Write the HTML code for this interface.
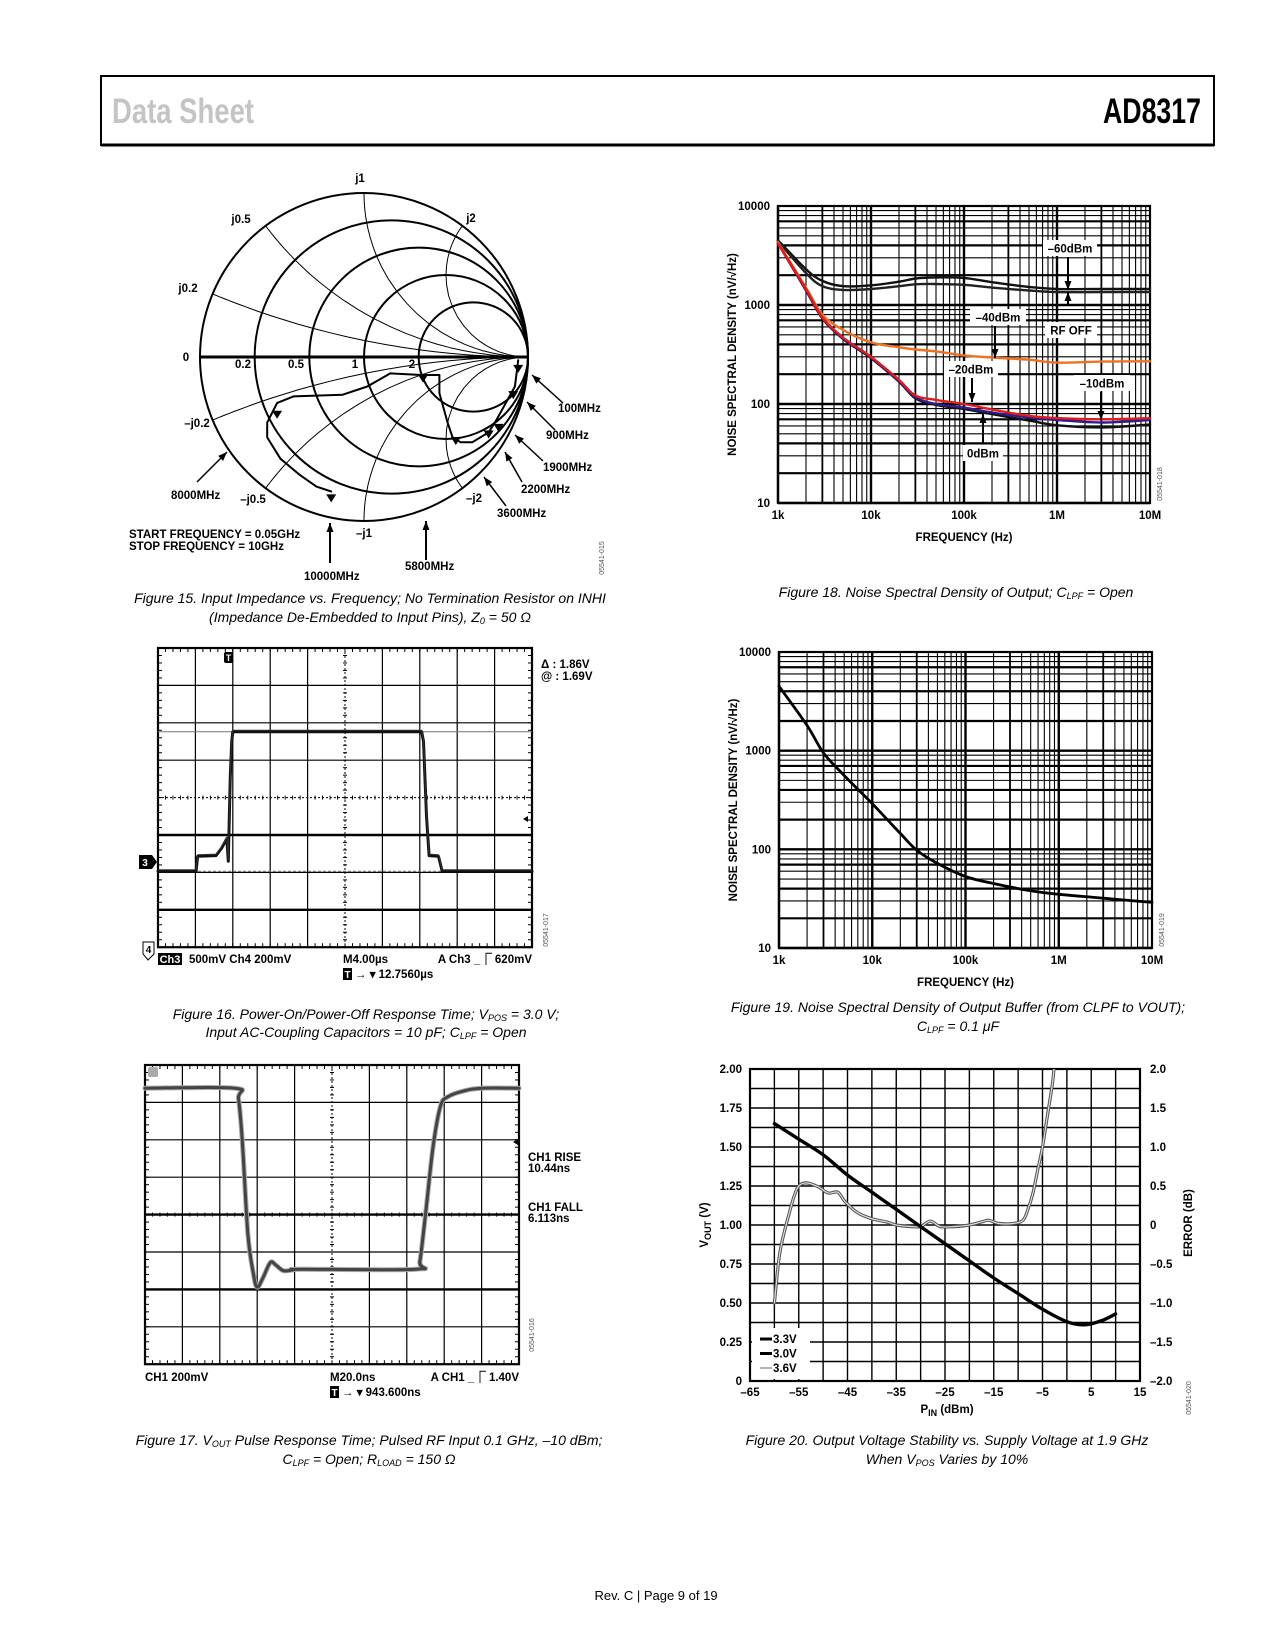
<!DOCTYPE html>
<html><head><meta charset="utf-8"><title>AD8317 Data Sheet page 9</title>
<style>
html,body{margin:0;padding:0;background:#fff;}
svg{display:block;}
text{font-family:"Liberation Sans",sans-serif;}
.b{font-weight:bold;font-size:11.5px;}
.cap{font-style:italic;font-size:14px;}
</style></head>
<body>
<svg id="page" width="1275" height="1650" viewBox="0 0 1275 1650" xmlns="http://www.w3.org/2000/svg">
<g>
<rect x="101" y="76" width="1113" height="69" fill="none" stroke="#000" stroke-width="2"/>
<line x1="101" y1="145" x2="1214" y2="145" stroke="#000" stroke-width="3"/>
<text x="112" y="123" font-size="35" font-weight="bold" fill="#c4c4c4" textLength="142" lengthAdjust="spacingAndGlyphs">Data Sheet</text>
<text x="1103" y="123" font-size="35" font-weight="bold" fill="#000" textLength="98" lengthAdjust="spacingAndGlyphs">AD8317</text>
</g>
<text x="656" y="1600" font-size="13" text-anchor="middle">Rev. C | Page 9 of 19</text>
</svg>
<script>
// ---------- DATA ----------
// Fig 15 Smith chart trace (reflection coefficient real / imag)
const smithRe = [0.94,0.92,0.81,0.76,0.66,0.59,0.54,0.51,0.46,0.46,0.35,0.16,0.02,-0.13,-0.43,-0.53,-0.59,-0.59,-0.51,-0.39,-0.29,-0.20];
const smithIm = [-0.02,-0.18,-0.38,-0.46,-0.52,-0.52,-0.49,-0.40,-0.22,-0.11,-0.11,-0.10,-0.18,-0.23,-0.24,-0.28,-0.40,-0.49,-0.62,-0.72,-0.79,-0.82];
const smithMarkRe = [0.94,0.91,0.82,0.76,0.56,0.36,-0.53,-0.20];
const smithMarkIm = [-0.06,-0.22,-0.42,-0.46,-0.50,-0.12,-0.34,-0.85];
const smithR = [0.2,0.5,1,2];
const smithX = [0.2,0.5,1,2];
// Fig 18 noise spectral density
const nsdFreq = [1e3,2e3,3e3,5e3,1e4,2e4,3e4,5e4,1e5,2e5,5e5,1e6,3e6,1e7];
const nsdRfOff = [4500,2300,1750,1550,1580,1720,1850,1900,1880,1700,1520,1450,1450,1450];
const nsdM60 = [4400,2100,1550,1420,1450,1550,1620,1630,1600,1500,1400,1350,1350,1350];
const nsdM40 = [4300,1500,800,560,420,375,355,340,310,295,280,262,268,270];
const nsdM20 = [4200,1450,750,470,300,175,122,110,100,88,76,72,70,72];
const nsdM10 = [4200,1420,740,460,295,170,117,100,92,82,73,69,65,69];
const nsd0 = [4200,1400,730,455,290,168,114,98,89,79,68,61,58,62];
const nsdTicksY = [10,100,1000,10000];
const nsdTicksX = ["1k","10k","100k","1M","10M"];
// Fig 19 output buffer noise
const bufFreq = [1e3,2e3,3e3,5e3,1e4,2e4,3e4,5e4,1e5,2e5,5e5,1e6,3e6,1e7];
const bufNsd = [4500,1800,950,560,290,145,98,72,53,45,38,35,32,29];
// Fig 16 power-on scope trace (time div, volts div from bottom)
const ponT = [0,1.02,1.06,1.55,1.7,1.84,1.88,1.93,1.97,2.0,7.05,7.1,7.18,7.25,7.5,7.6,10];
const ponV = [2.03,2.03,2.43,2.45,2.65,2.9,2.3,4.5,5.5,5.76,5.76,5.5,3.5,2.45,2.43,2.03,2.03];
// Fig 17 pulse response
const pulT = [0,2.4,2.5,2.6,2.75,2.9,3.0,3.15,3.35,3.5,3.7,3.95,4.2,7.25,7.35,7.5,7.7,7.9,8.1,8.5,9,10];
const pulV = [7.38,7.38,7.1,6,3.5,2.4,2.06,2.3,2.72,2.65,2.5,2.52,2.54,2.54,2.75,4,5.8,6.9,7.15,7.3,7.38,7.38];
// Fig 20 output voltage stability
const pinDbm = [-60,-55,-50,-45,-40,-35,-30,-25,-20,-15,-10,-5,0,3.5,7,10];
const vout = [1.65,1.55,1.45,1.32,1.21,1.10,0.99,0.88,0.77,0.66,0.56,0.46,0.38,0.36,0.385,0.43];
const errPin = [-60,-59,-58,-57,-56,-55,-53.5,-51,-49,-47,-45.5,-43,-40,-37,-35,-32,-30,-28,-26,-23,-20,-17.5,-16,-14,-11,-9,-8,-7,-6,-5,-4,-3,-2.5];
const errDb = [-1.0,-0.4,-0.1,0.14,0.36,0.5,0.54,0.49,0.41,0.42,0.3,0.16,0.08,0.04,0.0,-0.02,-0.02,0.05,-0.02,-0.02,0.0,0.04,0.06,0.02,0.02,0.06,0.2,0.4,0.7,1.0,1.4,1.8,2.1];
const voutTicks = ["0","0.25","0.50","0.75","1.00","1.25","1.50","1.75","2.00"];
const errTicks = ["–2.0","–1.5","–1.0","–0.5","0","0.5","1.0","1.5","2.0"];
const pinTicks = ["–65","–55","–45","–35","–25","–15","–5","5","15"];

// ---------- HELPERS ----------
const NS="http://www.w3.org/2000/svg";
const svg=document.getElementById('page');
function mk(tag,attrs,name,parent){
  const el=document.createElementNS(NS,tag);
  for(const k in attrs) el.setAttribute(k,attrs[k]);
  
  
  (parent||svg).appendChild(el);return el;}
function ln(x1,y1,x2,y2,w,c,name,p,dash){const a={x1,y1,x2,y2,stroke:c||'#000','stroke-width':w};if(dash)a['stroke-dasharray']=dash;return mk('line',a,name,p);}
function tx(x,y,s,cls,name,p,anchor,extra){const a={x,y};if(cls)a['class']=cls;if(anchor)a['text-anchor']=anchor;if(extra)for(const k in extra)a[k]=extra[k];const t=mk('text',a,name,p);t.textContent=s;return t;}
function grp(name){return mk('g',{},name);}
function poly(pts,w,c,name,p,extra){const a={points:pts.map(q=>q[0].toFixed(1)+','+q[1].toFixed(1)).join(' '),fill:'none',stroke:c,'stroke-width':w,'stroke-linejoin':'round','stroke-linecap':'round'};if(extra)for(const k in extra)a[k]=extra[k];return mk('polyline',a,name,p);}
function smooth(pts,w,c,name,p,extra){let d='M'+pts[0][0].toFixed(1)+','+pts[0][1].toFixed(1);
  for(let i=0;i<pts.length-1;i++){const p0=pts[Math.max(0,i-1)],p1=pts[i],p2=pts[i+1],p3=pts[Math.min(pts.length-1,i+2)];
  const c1=[p1[0]+(p2[0]-p0[0])/6,p1[1]+(p2[1]-p0[1])/6],c2=[p2[0]-(p3[0]-p1[0])/6,p2[1]-(p3[1]-p1[1])/6];
  d+=' C'+c1.map(v=>v.toFixed(1))+' '+c2.map(v=>v.toFixed(1))+' '+p2.map(v=>v.toFixed(1));}
  const a={d,fill:'none',stroke:c,'stroke-width':w,'stroke-linejoin':'round','stroke-linecap':'round'};if(extra)for(const k in extra)a[k]=extra[k];return mk('path',a,name,p);}
function tri(x,y,s,dir,name,p){let pts;if(dir==='down')pts=[[x-s,y-s*1.6],[x+s,y-s*1.6],[x,y]];else pts=[[x-s,y+s*1.6],[x+s,y+s*1.6],[x,y]];
  return mk('polygon',{points:pts.map(q=>q.join(',')).join(' '),fill:'#000'},name,p);}
function arrow(x1,y1,x2,y2,name,p,w){const g=mk('g',{},name,p);ln(x1,y1,x2,y2,w||1.5,'#000','arrow-shaft',g);
  const a=Math.atan2(y2-y1,x2-x1),L=9,W=3.5;const bx=x2-L*Math.cos(a),by=y2-L*Math.sin(a);
  mk('polygon',{points:[[x2,y2],[bx+W*Math.sin(a),by-W*Math.cos(a)],[bx-W*Math.sin(a),by+W*Math.cos(a)]].map(q=>q.join(',')).join(' '),fill:'#000'},'arrow-head',g);return g;}
function caption(x,y,parts,name,p){const t=mk('text',{x,y,'class':'cap','text-anchor':'middle'},name,p);
  parts.forEach(pt=>{const s=document.createElementNS(NS,'tspan');s.textContent=pt[0];if(pt[1]){s.setAttribute('font-size','9');s.setAttribute('dy','2');}else if(pt[2]){s.setAttribute('dy','-2');}
  
  
  t.appendChild(s);});return t;}
function vtext(x,y,s,name,p,size){return tx(x,y,s,null,name,p,'middle',{transform:`rotate(-90 ${x} ${y})`,'font-size':size||7,fill:'#555'});}

// ---------- FIG 15 SMITH CHART ----------
(function(){
  const g=grp('figure-15-smith-chart');
  const cx=364,cy=357,R=164;
  const P=(re,im)=>[cx+R*re,cy-R*im];
  mk('circle',{cx,cy,r:R,fill:'none',stroke:'#000','stroke-width':2},'smith-outer-circle',g);
  smithR.forEach(r=>{mk('circle',{cx:cx+R*r/(1+r),cy,r:R/(1+r),fill:'none',stroke:'#000','stroke-width':2},'resistance-circle-'+r,g);});
  smithX.forEach(x=>{[1,-1].forEach(sg=>{const pts=[];for(let k=-30;k<=40;k++){const r=Math.pow(10,k/10)-0.001;const zr=Math.max(r,0),zi=sg*x;
     const den=(zr+1)*(zr+1)+zi*zi;pts.push(P(((zr*zr+zi*zi)-1)/den,(2*zi)/den));}
     pts.unshift(P(((x*x)-1)/(1+x*x),sg*2*x/(1+x*x)));
     poly(pts,1,'#000','reactance-arc-'+(sg>0?'':'neg-')+x,g);});});
  ln(cx-R,cy,cx+R,cy,3,'#000','real-axis',g);
  const tr=smithRe.map((v,i)=>P(v,smithIm[i]));
  poly(tr,2,'#000','impedance-trace',g);
  smithMarkRe.forEach((v,i)=>{const q=P(v,smithMarkIm[i]);tri(q[0],q[1]+6,5,'down','frequency-marker',g);});
  const L=[["j1",360,182,'middle'],["j0.5",241,223,'middle'],["j2",471,222,'middle'],["j0.2",188,292,'middle'],["0",186,361,'middle'],
   ["–j0.2",197,427,'middle'],["–j0.5",253,503,'middle'],["–j2",474,502,'middle'],["–j1",364,537,'middle'],
   ["0.2",243,368,'middle'],["0.5",296,368,'middle'],["1",355,368,'middle'],["2",412,368,'middle']];
  L.forEach(l=>tx(l[1],l[2],l[0],'b','smith-label',g,l[3]).setAttribute('font-size','10.5'));
  arrow(563,403,532,375,'arrow-100mhz',g);tx(558,412,'100MHz','b','label-100mhz',g).setAttribute('font-size','10.5');
  arrow(555,430,527,402,'arrow-900mhz',g);tx(546,439,'900MHz','b','label-900mhz',g).setAttribute('font-size','10.5');
  arrow(543,461,515,435,'arrow-1900mhz',g);tx(543,471,'1900MHz','b','label-1900mhz',g).setAttribute('font-size','10.5');
  arrow(522,482,505,452,'arrow-2200mhz',g);tx(521,493,'2200MHz','b','label-2200mhz',g).setAttribute('font-size','10.5');
  arrow(506,506,484,477,'arrow-3600mhz',g);tx(497,517,'3600MHz','b','label-3600mhz',g).setAttribute('font-size','10.5');
  arrow(197,482,227,452,'arrow-8000mhz',g);tx(171,499,'8000MHz','b','label-8000mhz',g).setAttribute('font-size','10.5');
  arrow(330,563,330,523,'arrow-10000mhz',g,2);tx(304,580,'10000MHz','b','label-10000mhz',g).setAttribute('font-size','10.5');
  arrow(426,560,426,521,'arrow-5800mhz',g,2);tx(405,570,'5800MHz','b','label-5800mhz',g).setAttribute('font-size','10.5');
  tx(129,538,'START FREQUENCY = 0.05GHz','b','start-frequency-note',g).setAttribute('font-size','10.5');
  tx(129,550,'STOP FREQUENCY = 10GHz','b','stop-frequency-note',g).setAttribute('font-size','10.5');
  vtext(604,558,'05541-015','figure-id-015',g);
  caption(370,603,[["Figure 15. Input Impedance vs. Frequency; No Termination Resistor on INHI"]],'figure-15-caption-line1',g);
  caption(370,622,[["(Impedance De-Embedded to Input Pins), Z"],["0",1],[" = 50 Ω",0,1]],'figure-15-caption-line2',g);
})();

// ---------- LOG NOISE CHART FACTORY ----------
function logChart(name,L,T,Rr,B){
  const g=grp(name);
  const X=f=>L+(Math.log10(f)-3)*(Rr-L)/4;
  const Y=v=>B-(Math.log10(v)-1)*(B-T)/3;
  for(let d=3;d<7;d++)for(let k=1;k<10;k++){const x=X(k*Math.pow(10,d));ln(x,T,x,B,k===1?2.4:(k===3?1.8:1.1),'#000','grid-vertical',g);}
  for(let d=1;d<4;d++)for(let k=1;k<10;k++){const y=Y(k*Math.pow(10,d));ln(L,y,Rr,y,k===1?2.4:(k===2||k===4||k===7?2.2:1.1),'#000','grid-horizontal',g);}
  mk('rect',{x:L,y:T,width:Rr-L,height:B-T,fill:'none',stroke:'#000','stroke-width':2.2},'plot-frame',g);
  nsdTicksY.forEach(v=>tx(L-8,Y(v)+4,String(v),'b','y-tick-label',g,'end'));
  nsdTicksX.forEach((s,i)=>tx(L+i*(Rr-L)/4,B+16,s,'b','x-tick-label',g,'middle'));
  tx((L+Rr)/2,B+38,'FREQUENCY (Hz)','b','x-axis-title',g,'middle').setAttribute('font-size','12');
  const yt=tx(L-42,(T+B)/2,'NOISE SPECTRAL DENSITY (nV/√Hz)','b','y-axis-title',g,'middle',{transform:`rotate(-90 ${L-42} ${(T+B)/2})`});yt.setAttribute('font-size','11');
  return {g,X,Y};
}
// ---------- FIG 18 ----------
(function(){
  const c=logChart('figure-18-noise-chart',778,206,1150,503);
  const g=c.g;
  const S=(arr,col,w,nm)=>smooth(nsdFreq.map((f,i)=>[c.X(f),c.Y(arr[i])]),w,col,nm,g);
  S(nsdRfOff,'#111',2.4,'series-rf-off');S(nsdM60,'#222',2.4,'series-minus60dbm');
  S(nsd0,'#111',2.4,'series-0dbm');S(nsdM10,'#2b1f8f',2.4,'series-minus10dbm');
  S(nsdM40,'#f07020',2.4,'series-minus40dbm');S(nsdM20,'#e41b1b',2.4,'series-minus20dbm');
  const lab=(s,cx,cy,w,nm)=>{mk('rect',{x:cx-w/2,y:cy-8,width:w,height:16,fill:'#fff'},nm+'-bg',g);tx(cx,cy+4.5,s,'b',nm,g,'middle').setAttribute('font-size','12');};
  lab('–60dBm',1070,248,54,'label-minus60dbm');arrow(1068,257,1068,290,'arrow-minus60dbm',g,2);arrow(1068,306,1068,292,'arrow-rf-off',g,2);
  lab('RF OFF',1071,330,52,'label-rf-off');
  lab('–40dBm',998,317,56,'label-minus40dbm');arrow(995,326,995,358,'arrow-minus40dbm',g,2);
  lab('–20dBm',971,369,54,'label-minus20dbm');arrow(972,378,972,402,'arrow-minus20dbm',g,2);
  lab('0dBm',983,453,40,'label-0dbm');arrow(983,443,983,414,'arrow-0dbm',g,2);
  lab('–10dBm',1102,383,56,'label-minus10dbm');arrow(1101,392,1101,420,'arrow-minus10dbm',g,2);
  vtext(1162,484,'05541-018','figure-id-018',g);
  caption(956,597,[["Figure 18. Noise Spectral Density of Output; C"],["LPF",1],[" = Open",0,1]],'figure-18-caption',g);
})();
// ---------- FIG 19 ----------
(function(){
  const c=logChart('figure-19-buffer-noise-chart',779,652,1152,948);
  smooth(bufFreq.map((f,i)=>[c.X(f),c.Y(bufNsd[i])]),2.8,'#000','series-buffer-noise',c.g);
  vtext(1164,930,'05541-019','figure-id-019',c.g);
  caption(958,1012,[["Figure 19. Noise Spectral Density of Output Buffer (from CLPF to VOUT);"]],'figure-19-caption-line1',c.g);
  caption(958,1031,[["C"],["LPF",1],[" = 0.1 μF",0,1]],'figure-19-caption-line2',c.g);
})();

// ---------- SCOPE FACTORY ----------
function scope(name,L,T,div,thick){
  const g=grp(name);const W=div*10,H=div*8;
  for(let i=1;i<10;i++){const x=L+i*div;ln(x,T,x,T+H,i===5?1:1.2,'#000','graticule-vertical',g,i===5?'2,2':null);}
  for(let j=1;j<8;j++){const y=T+j*div;ln(L,y,L+W,y,thick.includes(j)?2.4:(j===4?1:1.2),'#000','graticule-horizontal',g,(j===4&&!thick.includes(j))?'2,2':null);}
  for(let k=0;k<=50;k++){const x=L+k*div/5;ln(x,T,x,T+4,1,'#000','tick-top',g);ln(x,T+H,x,T+H-4,1,'#000','tick-bottom',g);ln(x,T+4*div-2,x,T+4*div+2,1,'#000','tick-center-h',g);}
  for(let k=0;k<=40;k++){const y=T+k*div/5;ln(L,y,L+4,y,1,'#000','tick-left',g);ln(L+W,y,L+W-4,y,1,'#000','tick-right',g);ln(L+5*div-2,y,L+5*div+2,y,1,'#000','tick-center-v',g);}
  mk('rect',{x:L,y:T,width:W,height:H,fill:'none',stroke:'#000','stroke-width':2.2},'scope-frame',g);
  return {g,X:t=>L+t*div,Y:v=>T+H-v*div,L,T,W,H};
}
// ---------- FIG 16 ----------
(function(){
  const s=scope('figure-16-power-on-scope',158,648,37.4,[5,7]);const g=s.g;
  ln(s.L,s.Y(5.76),s.L+s.W,s.Y(5.76),1,'#777','reference-level-high',g);
  ln(s.L,s.Y(2.03),s.L+s.W,s.Y(2.03),1,'#777','reference-level-low',g,'3,2');
  poly(ponT.map((t,i)=>[s.X(t),s.Y(ponV[i])]),3,'#111','ch3-trace',g);
  poly(ponT.map((t,i)=>[s.X(t),s.Y(ponV[i])-1.5]),1,'#333','ch3-trace-noise',g);
  mk('rect',{x:224,y:652,width:9,height:11,rx:2,fill:'#000'},'trigger-marker',g);tx(228.5,661,'T',null,'trigger-marker-text',g,'middle',{fill:'#fff','font-size':9,'font-weight':'bold'});
  mk('polygon',{points:'139,855 152,855 157,862 152,869 139,869',fill:'#000'},'ch3-marker',g);tx(145,866,'3',null,'ch3-marker-text',g,'middle',{fill:'#fff','font-size':10,'font-weight':'bold'});
  mk('polygon',{points:'143,942 154,942 154,954 148,960 143,954',fill:'#fff',stroke:'#000','stroke-width':1},'ch4-marker',g);tx(148.5,953,'4',null,'ch4-marker-text',g,'middle',{'font-size':10,'font-weight':'bold'});
  mk('polygon',{points:'528,816 523,819 528,822',fill:'#000'},'trigger-level-marker',g);
  tx(541,668,'Δ : 1.86V','b','delta-readout',g);tx(541,680,'@ : 1.69V','b','at-readout',g);
  mk('rect',{x:158,y:953,width:24,height:12,fill:'#000'},'ch3-badge',g);tx(170,963,'Ch3',null,'ch3-badge-text',g,'middle',{fill:'#fff','font-size':11,'font-weight':'bold'});
  tx(189,963,'500mV  Ch4 200mV','b','channel-scales',g);
  tx(343,963,'M4.00µs','b','timebase',g);tx(532,963,'A  Ch3 _⎾ 620mV','b','trigger-setting',g,'end');
  mk('rect',{x:343,y:968,width:9,height:12,fill:'#000'},'trigger-pos-badge',g);tx(347.5,978,'T',null,'trigger-pos-badge-text',g,'middle',{fill:'#fff','font-size':10,'font-weight':'bold'});
  tx(355,978,'→ ▾ 12.7560µs','b','trigger-position',g);
  vtext(548,930,'05541-017','figure-id-017',g);
  caption(366,1019,[["Figure 16. Power-On/Power-Off Response Time; V"],["POS",1],[" = 3.0 V;",0,1]],'figure-16-caption-line1',g);
  caption(366,1037,[["Input AC-Coupling Capacitors = 10 pF; C"],["LPF",1],[" = Open",0,1]],'figure-16-caption-line2',g);
})();
// ---------- FIG 17 ----------
(function(){
  const s=scope('figure-17-pulse-scope',145,1065,37.4,[4,6]);const g=s.g;
  const pts=pulT.map((t,i)=>[s.X(t),s.Y(pulV[i])]);
  smooth(pts,5,'#aaa','ch1-trace-envelope',g);
  smooth(pts,3,'#444','ch1-trace',g);
  mk('rect',{x:148,y:1067,width:10,height:10,rx:2,fill:'#aaa'},'trigger-marker',g);
  mk('polygon',{points:'518,1139 513,1142 518,1145',fill:'#000'},'trigger-level-marker',g);
  tx(528,1161,'CH1 RISE','b','rise-label',g);tx(528,1172,'10.44ns','b','rise-value',g);
  tx(528,1211,'CH1 FALL','b','fall-label',g);tx(528,1222,'6.113ns','b','fall-value',g);
  tx(145,1381,'CH1  200mV','b','ch1-scale',g);tx(330,1381,'M20.0ns','b','timebase',g);
  tx(519,1381,'A  CH1 _⎾ 1.40V','b','trigger-setting',g,'end');
  mk('rect',{x:330,y:1386,width:9,height:12,fill:'#000'},'trigger-pos-badge',g);tx(334.5,1396,'T',null,'trigger-pos-badge-text',g,'middle',{fill:'#fff','font-size':10,'font-weight':'bold'});
  tx(342,1396,'→ ▾ 943.600ns','b','trigger-position',g);
  vtext(534,1335,'05541-016','figure-id-016',g);
  caption(369,1445,[["Figure 17. V"],["OUT",1],[" Pulse Response Time; Pulsed RF Input 0.1 GHz, –10 dBm;",0,1]],'figure-17-caption-line1',g);
  caption(369,1464,[["C"],["LPF",1],[" = Open; R",0,1],["LOAD",1],[" = 150 Ω",0,1]],'figure-17-caption-line2',g);
})();
// ---------- FIG 20 ----------
(function(){
  const g=grp('figure-20-stability-chart');
  const L=750,Rr=1140,T=1069,B=1381;
  const X=p=>L+(p+65)*(Rr-L)/80;const Y=v=>B-v*(B-T)/2;const Yd=d=>(T+B)/2-d*(B-T)/4;
  for(let i=1;i<16;i++){const x=L+i*(Rr-L)/16;ln(x,T,x,B,1.4,'#000','grid-vertical',g);}
  for(let j=1;j<16;j++){const y=T+j*(B-T)/16;ln(L,y,Rr,y,1.4,'#000','grid-horizontal',g);}
  mk('rect',{x:L,y:T,width:Rr-L,height:B-T,fill:'none',stroke:'#000','stroke-width':2.2},'plot-frame',g);
  voutTicks.forEach((s,i)=>tx(L-8,Y(i*0.25)+4,s,'b','y-left-tick-label',g,'end'));
  errTicks.forEach((s,i)=>tx(Rr+10,Yd(-2+i*0.5)+4,s,'b','y-right-tick-label',g));
  pinTicks.forEach((s,i)=>tx(X(-65+i*10),B+15,s,'b','x-tick-label',g,'middle'));
  const xt=tx(947,B+32,'P','b','x-axis-title',g,'middle');xt.setAttribute('font-size','12');
  const s1=document.createElementNS(NS,'tspan');s1.textContent='IN';s1.setAttribute('font-size','9');s1.setAttribute('dy','3');
  
  
  xt.appendChild(s1);
  const s2=document.createElementNS(NS,'tspan');s2.textContent=' (dBm)';s2.setAttribute('dy','-3');
  
  
  xt.appendChild(s2);
  const yl=tx(708,1225,'V','b','y-left-axis-title',g,'middle',{transform:'rotate(-90 708 1225)','font-size':12});
  const s3=document.createElementNS(NS,'tspan');s3.textContent='OUT';s3.setAttribute('font-size','9');s3.setAttribute('dy','3');
  
  
  yl.appendChild(s3);
  const s4=document.createElementNS(NS,'tspan');s4.textContent=' (V)';s4.setAttribute('dy','-3');
  
  
  yl.appendChild(s4);
  tx(1192,1223,'ERROR (dB)','b','y-right-axis-title',g,'middle',{transform:'rotate(-90 1192 1223)','font-size':12});
  const cp=mk('clipPath',{id:'clip20'},'plot-clip',g);
  mk('rect',{x:L,y:T,width:Rr-L,height:B-T},'plot-clip-rect',cp);
  const ep=errPin.map((p,i)=>[X(p),Yd(errDb[i])]);
  smooth(ep,3.2,'#555','error-series-outline',g,{'clip-path':'url(#clip20)'});
  smooth(ep,1.1,'#e4e4e4','error-series-core',g,{'clip-path':'url(#clip20)'});
  smooth(pinDbm.map((p,i)=>[X(p),Y(vout[i])]),3.4,'#000','vout-series',g);
  mk('rect',{x:L+2,y:1328,width:58,height:51,fill:'#fff'},'legend-background',g);
  const leg=[['3.3V','#000'],['3.0V','#000'],['3.6V','#999']];
  leg.forEach((l,i)=>{const y=1339+i*14.5;ln(L+10,y,L+22,y,i===2?1.5:3,l[1],'legend-swatch-'+l[0],g);tx(L+23,y+4,l[0],'b','legend-entry-'+l[0],g);});
  vtext(1191,1398,'05541-020','figure-id-020',g);
  caption(947,1445,[["Figure 20. Output Voltage Stability vs. Supply Voltage at 1.9 GHz"]],'figure-20-caption-line1',g);
  caption(947,1464,[["When V"],["POS",1],[" Varies by 10%",0,1]],'figure-20-caption-line2',g);
})();
</script>
</body></html>
